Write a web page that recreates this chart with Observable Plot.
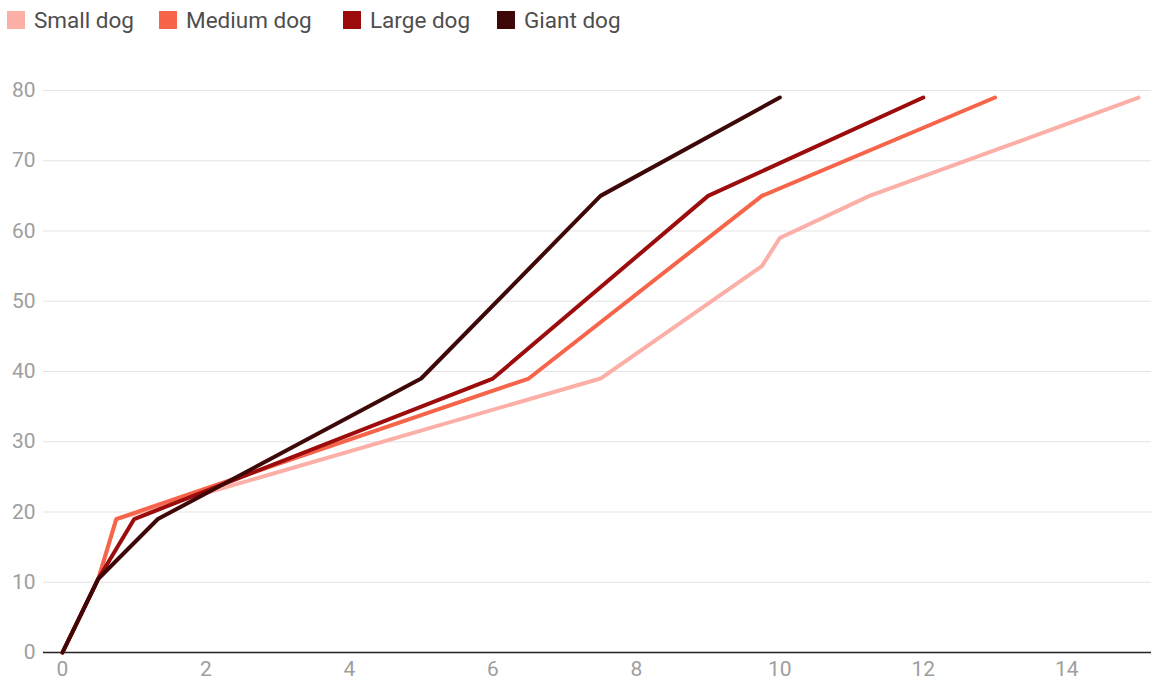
<!DOCTYPE html>
<html>
<head>
<meta charset="utf-8">
<script src="https://cdn.jsdelivr.net/npm/d3@7"></script>
<script src="https://cdn.jsdelivr.net/npm/@observablehq/plot@0.6"></script>
<style>
  html, body { margin: 0; padding: 0; background: #fff; }
  body { width: 1151px; height: 683px; overflow: hidden; font-family: Roboto, "Noto Sans", sans-serif; }
  #legend { height: 44px; position: relative; }
  .sw { position: absolute; top: 11px; width: 18px; height: 18px; }
  .lbl { position: absolute; top: 6px; font-size: 22.5px; line-height: 28px; color: #4e4e4e; white-space: nowrap; }
</style>
</head>
<body>
<div id="legend"></div>
<div id="chart"></div>
<script>
const seriesNames = ["Small dog", "Medium dog", "Large dog", "Giant dog"];
const seriesColors = ["#fbafa7", "#f6644a", "#9c0c0c", "#3e0808"];

const smallX  = [0, 0.5, 0.75, 7.5, 9.75, 10, 11.25, 13, 15];
const smallY  = [0, 10.5, 19, 39, 55, 59, 65, 71.5, 79];
const mediumX = [0, 0.5, 0.75, 6.5, 9.75, 13];
const mediumY = [0, 10.5, 19, 39, 65, 79];
const largeX  = [0, 0.5, 1, 6, 9, 12];
const largeY  = [0, 10.5, 19, 39, 65, 79];
const giantX  = [0, 0.5, 1.33, 5, 7.5, 10];
const giantY  = [0, 10.5, 19, 39, 65, 79];

const xTicks = [0, 2, 4, 6, 8, 10, 12, 14];
const yTicks = [0, 10, 20, 30, 40, 50, 60, 70, 80];

const seriesXs = [smallX, mediumX, largeX, giantX];
const seriesYs = [smallY, mediumY, largeY, giantY];
const data = [];
seriesNames.forEach((name, i) => {
  seriesXs[i].forEach((x, j) => data.push({series: name, x, y: seriesYs[i][j]}));
});

// legend
const legend = document.getElementById("legend");
const swatchLeft = [7, 159, 343, 497];
seriesNames.forEach((name, i) => {
  const s = document.createElement("div");
  s.className = "sw";
  s.style.left = swatchLeft[i] + "px";
  s.style.background = seriesColors[i];
  legend.appendChild(s);
  const t = document.createElement("div");
  t.className = "lbl";
  t.style.left = (swatchLeft[i] + 27) + "px";
  t.textContent = name;
  legend.appendChild(t);
});

const chart = Plot.plot({
  width: 1151,
  height: 639,
  marginTop: 46,
  marginBottom: 31,
  marginLeft: 62,
  marginRight: 13,
  style: {fontFamily: "Roboto, sans-serif", fontSize: "21px", color: "#9e9e9e", background: "#fff", overflow: "visible"},
  x: {domain: [0, 15], ticks: xTicks, label: null, tickFormat: d => d},
  y: {domain: [0, 80], ticks: yTicks, label: null, tickFormat: d => d},
  color: {domain: seriesNames, range: seriesColors},
  marks: [
    Plot.ruleY(yTicks.filter(d => d > 0), {stroke: "#e3e3e3", strokeWidth: 1.2, insetLeft: -19, insetRight: -13}),
    Plot.ruleY([0], {stroke: "#222", strokeWidth: 1.6, insetLeft: -19, insetRight: -13}),
    Plot.line(data, {x: "x", y: "y", z: "series", stroke: "series", strokeWidth: 4, strokeLinejoin: "miter", strokeLinecap: "round"}),
    Plot.axisX({ticks: xTicks, tickSize: 0, tickPadding: 9, fill: "#9e9e9e", fontSize: 21, label: null, tickFormat: d => d}),
    Plot.axisY({ticks: yTicks, tickSize: 0, tickPadding: 27, fill: "#9e9e9e", fontSize: 21, label: null, tickFormat: d => d})
  ]
});
document.getElementById("chart").appendChild(chart);
</script>
</body>
</html>
